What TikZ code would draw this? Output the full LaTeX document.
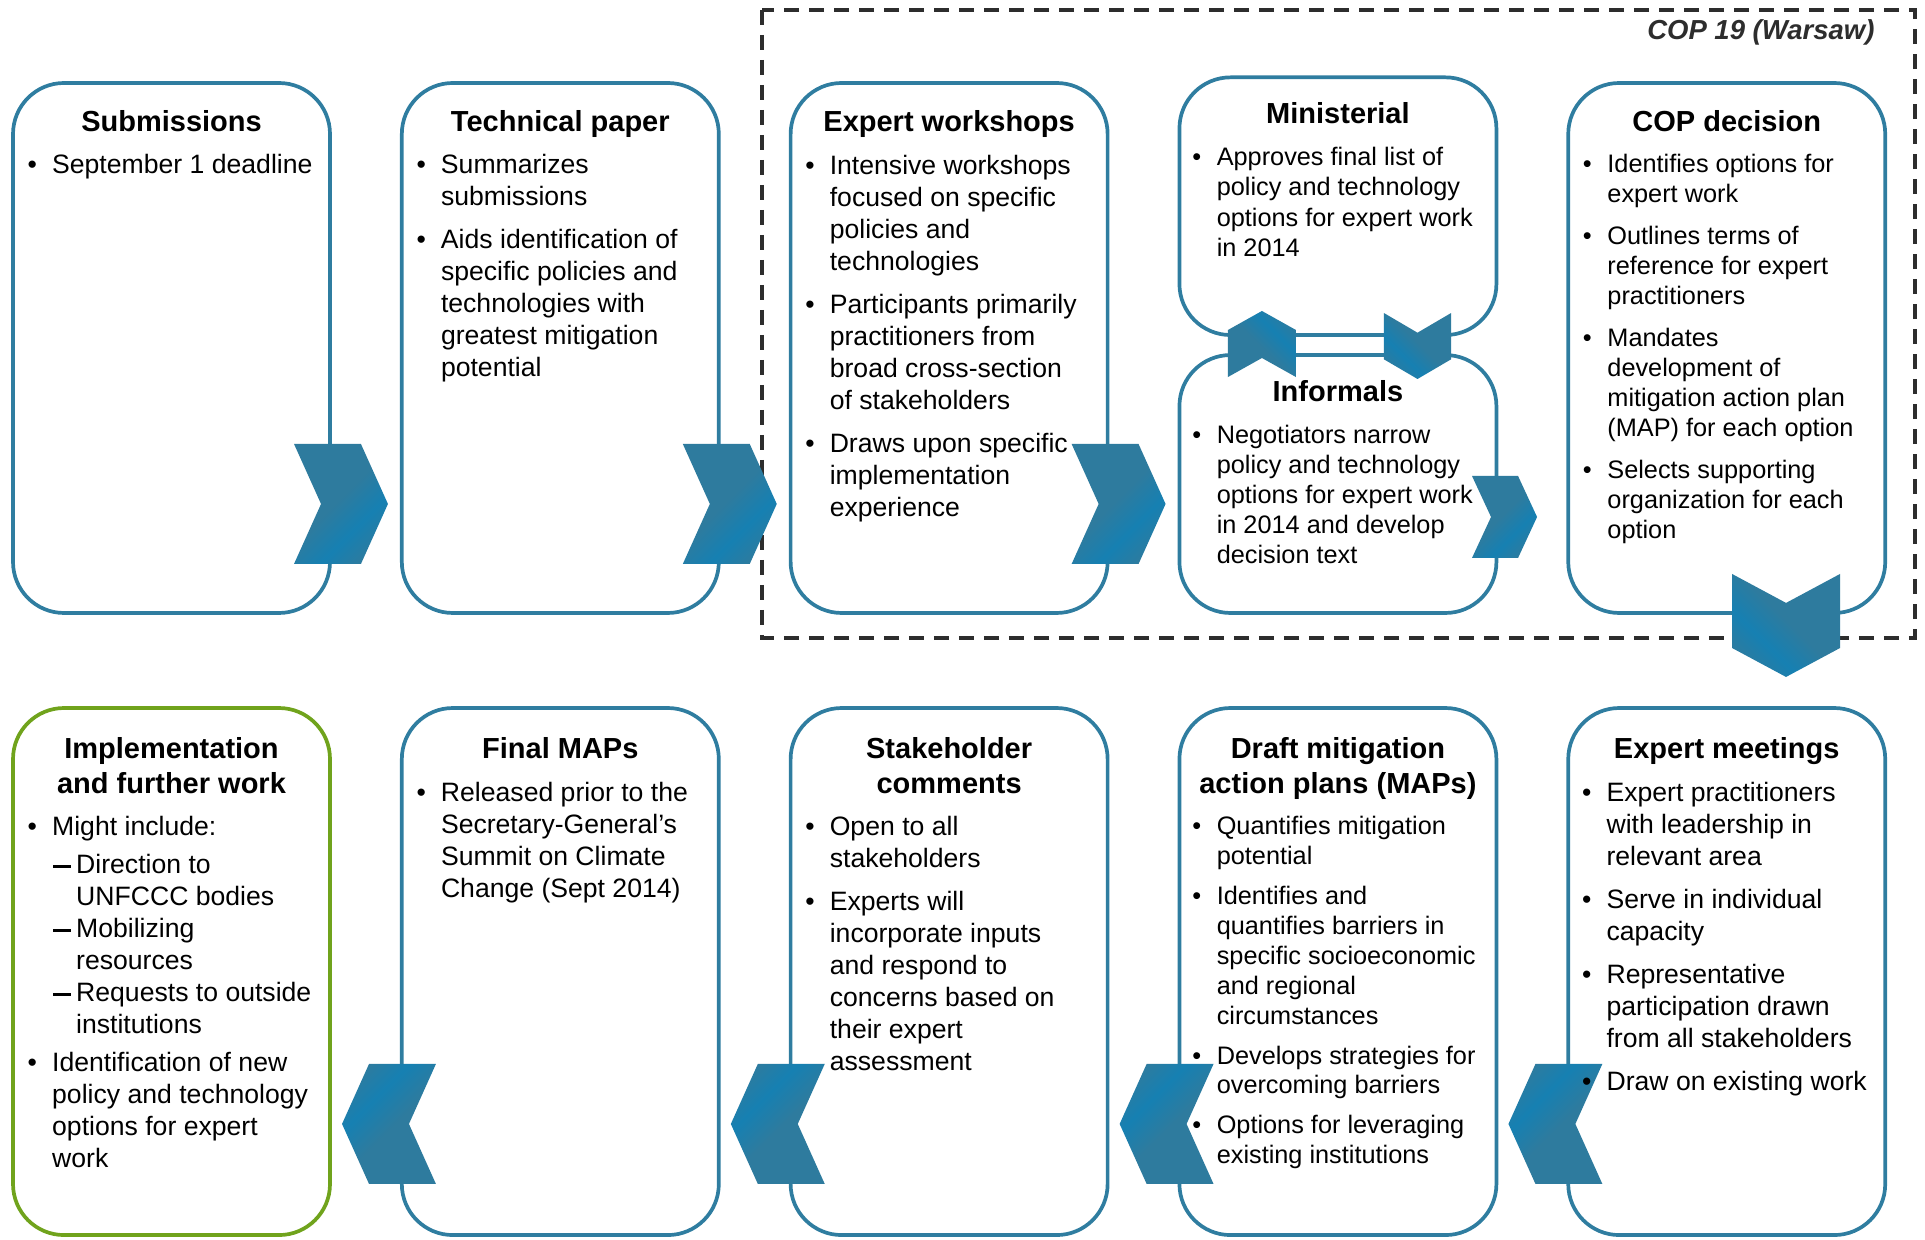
\documentclass[tikz,border=0pt]{standalone}
\usepackage{fontspec}
\setmainfont{Liberation Sans}
\usetikzlibrary{calc}

\definecolor{boxblue}{RGB}{47,125,160}
\definecolor{chevbase}{RGB}{46,123,158}
\definecolor{chevbright}{RGB}{22,128,178}
\definecolor{implgreen}{RGB}{112,163,28}
\definecolor{framegray}{RGB}{45,45,45}

% streaked fill of the process arrows
\pgfdeclarehorizontalshading{chevshade}{100bp}{color(0bp)=(chevbase); color(48bp)=(chevbase); color(63bp)=(chevbright); color(77bp)=(chevbase); color(100bp)=(chevbase)}

\newcommand\ux{1.2277pt}
\newcommand\normalbody{\fontsize{26.6}{32}\selectfont}
\newcommand\compactbody{\fontsize{25.3}{30.2}\selectfont}
\newcommand\tightbody{\fontsize{25.3}{29.9}\selectfont}
\newcommand\bl{\makebox[24.5pt][l]{\textbullet}}
\newcommand\dsh{\makebox[24pt][l]{\hspace{1pt}\rule[5.5pt]{18pt}{3.2pt}}}

% horizontal chevron: cx, cy, length, height, point depth, direction (1 right, -1 left), shading angle
\newcommand\chevh[7]{%
  \path[shading=chevshade, shading angle=#7]
    ({#1-(#6)*(#3)/2},{#2-(#4)/2}) -- ({#1+(#6)*((#3)/2-(#5))},{#2-(#4)/2})
    -- ({#1+(#6)*(#3)/2},{#2}) -- ({#1+(#6)*((#3)/2-(#5))},{#2+(#4)/2})
    -- ({#1-(#6)*(#3)/2},{#2+(#4)/2}) -- ({#1-(#6)*((#3)/2-(#5))},{#2}) -- cycle;}
% vertical chevron: cx, cy, length, width, point depth, direction (1 down, -1 up), shading angle
\newcommand\chevv[7]{%
  \path[shading=chevshade, shading angle=#7]
    ({#1-(#4)/2},{#2-(#6)*(#3)/2}) -- ({#1-(#4)/2},{#2+(#6)*((#3)/2-(#5))})
    -- ({#1},{#2+(#6)*(#3)/2}) -- ({#1+(#4)/2},{#2+(#6)*((#3)/2-(#5))})
    -- ({#1+(#4)/2},{#2-(#6)*(#3)/2}) -- ({#1},{#2-(#6)*((#3)/2-(#5))}) -- cycle;}

\tikzset{
  stage/.style={draw=boxblue, line width=3.7pt, fill=white, rounded corners=51pt,
    rectangle, inner sep=0pt, minimum width=258.2*\ux},
  title/.style={anchor=base, inner sep=0pt, font=\fontsize{29}{34.4}\selectfont\bfseries},
  body/.style={anchor=base west, inner sep=0pt, font=\normalbody},
  cbody/.style={anchor=base west, inner sep=0pt, font=\compactbody},
  tbody/.style={anchor=base west, inner sep=0pt, font=\tightbody},
}

\begin{document}
\begin{tikzpicture}[x=1.2277pt, y=-1.2277pt]
\useasboundingbox (0,0) rectangle (1568,1010);

% COP 19 frame
\draw[framegray, line width=3.2pt, dash pattern=on 15pt off 10pt]
  (620.7,8.1) rectangle (1559.8,519.7);
\node[anchor=base east, inner sep=0pt, text=framegray,
  font=\fontsize{27.5}{32}\selectfont\bfseries\itshape] (cop19) at (1527,32) {COP 19 (Warsaw)};

% stages, top row
\node[stage, minimum height=431.7*\ux] (sub)  at (139.7,283.45) {};
\node[stage, minimum height=431.7*\ux] (tech) at (456.4,283.45) {};
\node[stage, minimum height=431.7*\ux] (ews)  at (773.1,283.45) {};
\node[stage, minimum height=209.9*\ux] (mini) at (1089.8,167.95) {};
\node[stage, minimum height=210.1*\ux] (inf)  at (1089.8,394.25) {};
\node[stage, minimum height=431.7*\ux] (cop)  at (1406.5,283.45) {};
% stages, bottom row
\node[stage, draw=implgreen, minimum height=429.3*\ux] (impl) at (139.7,791.35) {};
\node[stage, minimum height=429.3*\ux] (final) at (456.4,791.35) {};
\node[stage, minimum height=429.3*\ux] (stake) at (773.1,791.35) {};
\node[stage, minimum height=429.3*\ux] (draft) at (1089.8,791.35) {};
\node[stage, minimum height=429.3*\ux] (expm)  at (1406.5,791.35) {};

% arrows between stages
\chevh{277.75}{410.5}{76.5}{97.7}{22}{1}{-45}
\chevh{594.45}{410.5}{76.5}{97.7}{22}{1}{-45}
\chevh{911.15}{410.5}{76.5}{97.7}{22}{1}{-45}
\chevh{1225.5}{421.1}{53}{66.8}{15.5}{1}{-45}
\chevv{1027.9}{280.2}{53.8}{55.4}{15.5}{-1}{45}
\chevv{1154.6}{281.85}{53.7}{54.6}{16}{1}{-135}
\chevv{1454.8}{509.45}{83.9}{88}{23.6}{1}{-135}
\chevh{1266.95}{915.5}{76.5}{97.8}{22}{-1}{135}
\chevh{950.25}{915.5}{76.5}{97.8}{22}{-1}{135}
\chevh{633.55}{915.5}{76.5}{97.8}{22}{-1}{135}
\chevh{316.85}{915.5}{76.5}{97.8}{22}{-1}{135}

% titles
\node[title] (subT)  at (139.7,107) {Submissions};
\node[title] (techT) at (456.4,107) {Technical paper};
\node[title] (ewsT)  at (773.1,107) {Expert workshops};
\node[title] (miniT) at (1089.8,101) {Ministerial};
\node[title] (infT)  at (1089.8,327) {Informals};
\node[title] (copT)  at (1406.5,107) {COP decision};
\node[title] (implT) at (139.7,618) {\begin{tabular}[t]{@{}c@{}}Implementation\\and further work\end{tabular}};
\node[title] (finalT) at (456.4,618) {Final MAPs};
\node[title] (stakeT) at (773.1,618) {\begin{tabular}[t]{@{}c@{}}Stakeholder\\comments\end{tabular}};
\node[title] (draftT) at (1089.8,618) {\begin{tabular}[t]{@{}c@{}}Draft mitigation\\action plans (MAPs)\end{tabular}};
\node[title] (expmT)  at (1406.5,618) {Expert meetings};

% bullet texts
\node[body] (subB) at (22.4,141.5) {\begin{tabular}[t]{@{}l@{}l@{}}
  \bl & September 1 deadline
\end{tabular}};

\node[body] (techB) at (339.1,141.5) {\begin{tabular}[t]{@{}l@{}l@{}}
  \bl & Summarizes\\
      & submissions\\[11pt]
  \bl & Aids identification of\\
      & specific policies and\\
      & technologies with\\
      & greatest mitigation\\
      & potential
\end{tabular}};

\node[body] (ewsB) at (655.8,142) {\begin{tabular}[t]{@{}l@{}l@{}}
  \bl & Intensive workshops\\
      & focused on specific\\
      & policies and\\
      & technologies\\[11pt]
  \bl & Participants primarily\\
      & practitioners from\\
      & broad cross-section\\
      & of stakeholders\\[11pt]
  \bl & Draws upon specific\\
      & implementation\\
      & experience
\end{tabular}};

\node[cbody] (miniB) at (971,135) {\begin{tabular}[t]{@{}l@{}l@{}}
  \bl & Approves final list of\\
      & policy and technology\\
      & options for expert work\\
      & in 2014
\end{tabular}};

\node[cbody] (infB) at (971,361) {\begin{tabular}[t]{@{}l@{}l@{}}
  \bl & Negotiators narrow\\
      & policy and technology\\
      & options for expert work\\
      & in 2014 and develop\\
      & decision text
\end{tabular}};

\node[tbody] (copB) at (1289.2,140.5) {\begin{tabular}[t]{@{}l@{}l@{}}
  \bl & Identifies options for\\
      & expert work\\[12.5pt]
  \bl & Outlines terms of\\
      & reference for expert\\
      & practitioners\\[12.5pt]
  \bl & Mandates\\
      & development of\\
      & mitigation action plan\\
      & (MAP) for each option\\[12pt]
  \bl & Selects supporting\\
      & organization for each\\
      & option
\end{tabular}};

\node[body] (implB) at (22.4,680.5) {\begin{tabular}[t]{@{}l@{}l@{}l@{}}
  \bl & \multicolumn{2}{@{}l@{}}{Might include:}\\[6pt]
      & \dsh & Direction to\\
      &      & UNFCCC bodies\\
      & \dsh & Mobilizing\\
      &      & resources\\
      & \dsh & Requests to outside\\
      &      & institutions\\[6pt]
  \bl & \multicolumn{2}{@{}l@{}}{Identification of new}\\
      & \multicolumn{2}{@{}l@{}}{policy and technology}\\
      & \multicolumn{2}{@{}l@{}}{options for expert}\\
      & \multicolumn{2}{@{}l@{}}{work}
\end{tabular}};

\node[body] (finalB) at (339.1,652.5) {\begin{tabular}[t]{@{}l@{}l@{}}
  \bl & Released prior to the\\
      & Secretary-General’s\\
      & Summit on Climate\\
      & Change (Sept 2014)
\end{tabular}};

\node[body] (stakeB) at (655.8,680.5) {\begin{tabular}[t]{@{}l@{}l@{}}
  \bl & Open to all\\
      & stakeholders\\[11pt]
  \bl & Experts will\\
      & incorporate inputs\\
      & and respond to\\
      & concerns based on\\
      & their expert\\
      & assessment
\end{tabular}};

\node[tbody] (draftB) at (971,679.5) {\begin{tabular}[t]{@{}l@{}l@{}}
  \bl & Quantifies mitigation\\
      & potential\\[10.5pt]
  \bl & Identifies and\\
      & quantifies barriers in\\
      & specific socioeconomic\\
      & and regional\\
      & circumstances\\[10pt]
  \bl & Develops strategies for\\
      & overcoming barriers\\[10pt]
  \bl & Options for leveraging\\
      & existing institutions
\end{tabular}};

\node[body] (expmB) at (1288.5,653) {\begin{tabular}[t]{@{}l@{}l@{}}
  \bl & Expert practitioners\\
      & with leadership in\\
      & relevant area\\[11pt]
  \bl & Serve in individual\\
      & capacity\\[11pt]
  \bl & Representative\\
      & participation drawn\\
      & from all stakeholders\\[11pt]
  \bl & Draw on existing work
\end{tabular}};
\end{tikzpicture}
\end{document}
